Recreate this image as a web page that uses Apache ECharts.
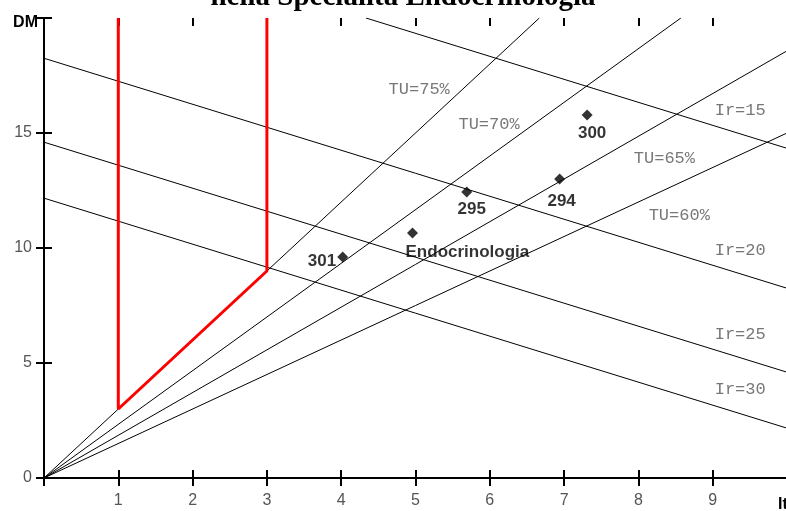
<!DOCTYPE html>
<html>
<head>
<meta charset="utf-8">
<script src="https://cdn.jsdelivr.net/npm/echarts@6/dist/echarts.min.js"></script>
<style>
html,body{margin:0;padding:0;background:#fff;overflow:hidden;}
#chart{width:786px;height:511px;}
</style>
</head>
<body>
<div id="chart"></div>
<script>
// ---- data ----
const titleText = "nella Specialità Endocrinologia";
const xTicks = [1, 2, 3, 4, 5, 6, 7, 8, 9];
const yTicks = [0, 5, 10, 15];
const tuValues = [0.75, 0.70, 0.65, 0.60];           // occupancy iso-lines
const irValues = [15, 20, 25, 30];                    // rotation-index iso-lines
const daysPerYear = 365;
const redBoundary = [[1, 20], [1, 3], [3, 9], [3, 20]];
const pointNames = ["301", "Endocrinologia", "295", "294", "300"];
const pointIt = [4.02, 4.96, 5.69, 6.94, 7.31];
const pointDM = [9.61, 10.65, 12.43, 13.0, 15.78];
const annoText = ["TU=75%", "TU=70%", "TU=65%", "TU=60%", "Ir=15", "Ir=20", "Ir=25", "Ir=30"];
const annoIt = [5.05, 5.99, 8.35, 8.55, 9.37, 9.37, 9.37, 9.37];
const annoDM = [16.91, 15.39, 13.91, 11.43, 15.96, 9.87, 6.22, 3.83];

const X_MAX = 10, Y_MAX = 20;

// iso-lines clipped to the plot box
function tuLine(tu) {
  const k = tu / (1 - tu);
  const xe = Math.min(X_MAX, Y_MAX / k);
  return [[0, 0], [xe, xe * k]];
}
function irLine(ir) {
  const s = daysPerYear / ir;
  const start = s > Y_MAX ? [s - Y_MAX, Y_MAX] : [0, s];
  const end = s > X_MAX ? [X_MAX, s - X_MAX] : [s, 0];
  return [start, end];
}

const series = [];
tuValues.forEach(tu => series.push({
  type: 'line', data: tuLine(tu), symbol: 'none', silent: true,
  lineStyle: {color: '#000', width: 1}, z: 2
}));
irValues.forEach(ir => series.push({
  type: 'line', data: irLine(ir), symbol: 'none', silent: true,
  lineStyle: {color: '#000', width: 1}, z: 2
}));
series.push({
  type: 'line', data: redBoundary, symbol: 'none', silent: true,
  lineStyle: {color: '#ff0000', width: 3}, z: 3
});

const labelCfg = {
  "301": {position: 'left', distance: 1, offset: [0, 4]},
  "Endocrinologia": {position: 'bottom', align: 'left', distance: 5, offset: [-7, 0]},
  "295": {position: 'bottom', distance: 3, offset: [5, 0]},
  "294": {position: 'bottom', distance: 8, offset: [2, 0]},
  "300": {position: 'bottom', distance: 4, offset: [5, 0]}
};
series.push({
  type: 'scatter', symbol: 'diamond', symbolSize: 11, z: 5,
  itemStyle: {color: '#000'},
  data: pointNames.map((n, i) => ({
    value: [pointIt[i], pointDM[i]], name: n,
    label: Object.assign({show: true, formatter: n, color: '#000',
      fontFamily: 'Liberation Sans, Arial, sans-serif', fontWeight: 'bold', fontSize: 17}, labelCfg[n])
  }))
});
series.push({
  type: 'scatter', symbolSize: 1, z: 4, silent: true,
  itemStyle: {color: 'rgba(0,0,0,0)'},
  data: annoText.map((t, i) => ({
    value: [annoIt[i], annoDM[i]],
    label: {show: true, position: 'inside', formatter: t, color: '#555',
      fontFamily: 'Liberation Mono, Courier New, monospace', fontSize: 17}
  }))
});

const axisLineStyle = {show: true, lineStyle: {color: '#000', width: 2}};
const tickOut = {show: true, inside: false, length: 8, lineStyle: {color: '#000', width: 2}};
const tickIn = {show: true, inside: true, length: 8, lineStyle: {color: '#000', width: 2}};
const labelStyle = {color: '#555', fontFamily: 'Liberation Sans, Arial, sans-serif', fontSize: 16};

const xBase = {type: 'value', min: 0, max: X_MAX, interval: 1, splitLine: {show: false}};
const yBase = {type: 'value', min: 0, max: Y_MAX, interval: 5, splitLine: {show: false}};

const option = {
  animation: false,
  backgroundColor: '#fff',
  grid: {left: 44, top: 18, width: 743, height: 460, containLabel: false, outerBoundsMode: 'none'},
  xAxis: [
    Object.assign({}, xBase, {position: 'bottom', axisLine: axisLineStyle, axisTick: tickOut,
      axisLabel: Object.assign({show: true, margin: 15,
        formatter: v => xTicks.includes(v) ? String(v) : ''}, labelStyle)}),
    Object.assign({}, xBase, {position: 'bottom', axisLine: {show: false}, axisTick: tickIn, axisLabel: {show: false}}),
    Object.assign({}, xBase, {position: 'top', axisLine: axisLineStyle, axisTick: tickOut, axisLabel: {show: false}}),
    Object.assign({}, xBase, {position: 'top', axisLine: {show: false}, axisTick: tickIn, axisLabel: {show: false}})
  ],
  yAxis: [
    Object.assign({}, yBase, {position: 'left', axisLine: axisLineStyle, axisTick: tickOut,
      axisLabel: Object.assign({show: true, margin: 12,
        formatter: v => yTicks.includes(v) ? String(v) : ''}, labelStyle)}),
    Object.assign({}, yBase, {position: 'left', axisLine: {show: false}, axisTick: tickIn, axisLabel: {show: false}}),
    Object.assign({}, yBase, {position: 'right', axisLine: axisLineStyle, axisTick: tickIn, axisLabel: {show: false}})
  ],
  graphic: [
    {type: 'text', x: 403, y: -2.5, z: 10, style: {
      text: titleText, textAlign: 'center', textVerticalAlign: 'middle',
      font: 'bold 29px "Liberation Serif", "Times New Roman", serif', fill: '#000'}},
    {type: 'text', x: 38, y: 23, z: 10, style: {
      text: 'DM', textAlign: 'right', textVerticalAlign: 'middle',
      font: 'bold 16px "Liberation Sans", Arial, sans-serif', fill: '#000'}},
    {type: 'text', x: 778, y: 505, z: 10, style: {
      text: 'It', textAlign: 'left', textVerticalAlign: 'middle',
      font: 'bold 16px "Liberation Sans", Arial, sans-serif', fill: '#000'}}
  ],
  series: series
};

const chart = echarts.init(document.getElementById('chart'), null, {renderer: 'canvas'});
chart.setOption(option);
</script>
</body>
</html>
